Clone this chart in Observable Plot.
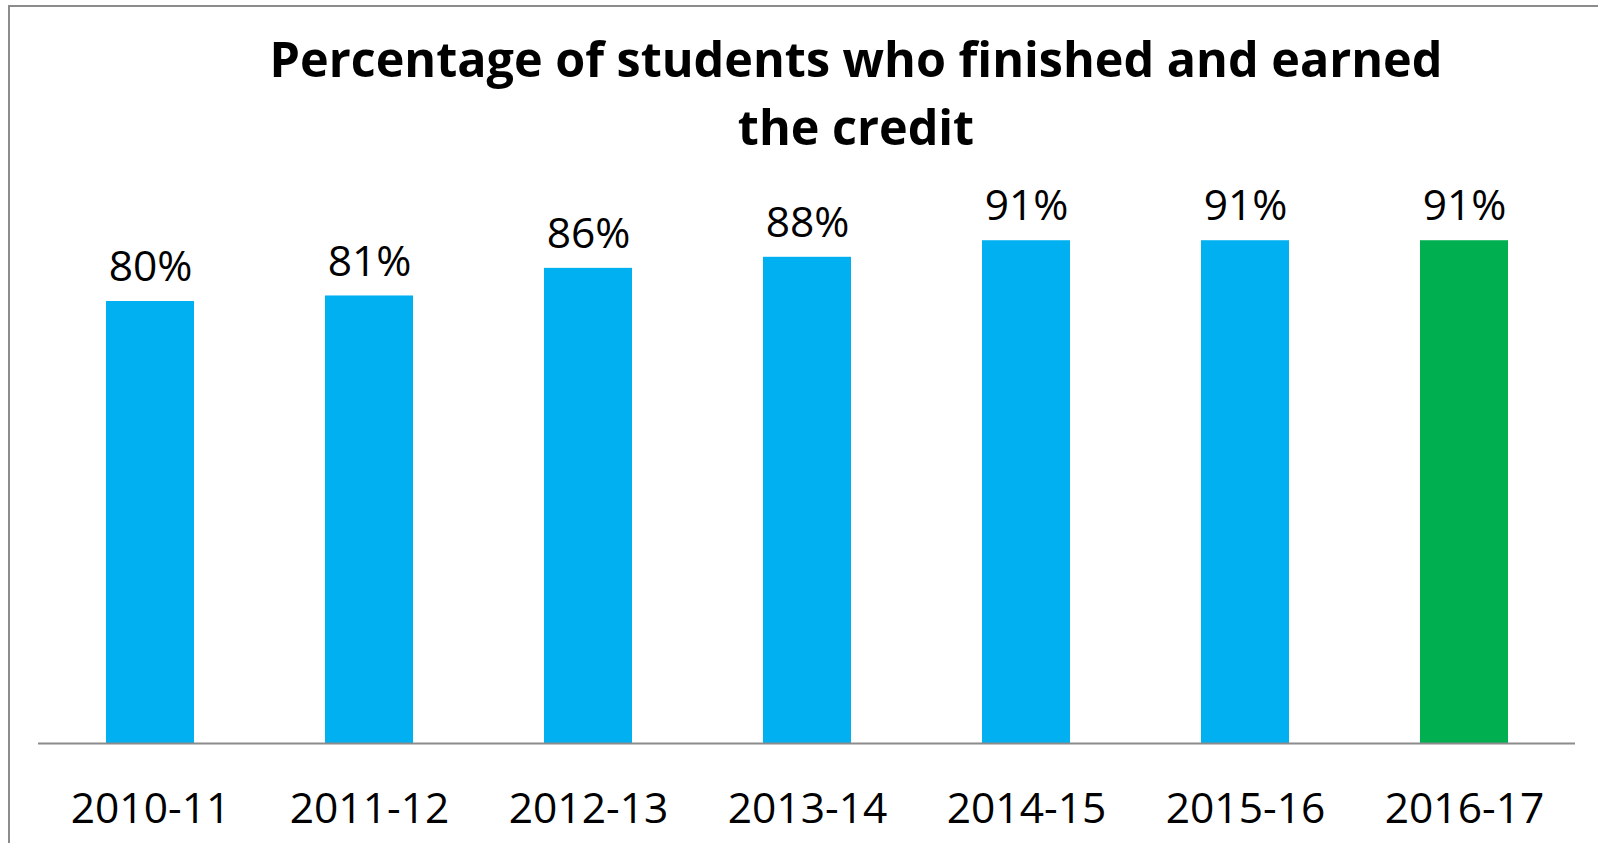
<!DOCTYPE html>
<html>
<head>
<meta charset="utf-8">
<script src="https://cdn.jsdelivr.net/npm/d3@7"></script>
<script src="https://cdn.jsdelivr.net/npm/@observablehq/plot@0.6"></script>
<style>
  html, body { margin: 0; padding: 0; background: #fff; }
  #wrap { position: relative; width: 1598px; height: 843px; overflow: hidden; background: #fff; }
  #frame { position: absolute; left: 8px; top: 5px; width: 2000px; height: 2000px;
           border-left: 2px solid #8c8c8c; border-top: 2px solid #8c8c8c; box-sizing: border-box; }
  #title { position: absolute; left: 0; top: 0; width: 1712px; text-align: center;
           font-family: "Open Sans", sans-serif; font-weight: 700; font-size: 48.5px;
           line-height: 68px; color: #000; padding-top: 24px; }
  #chart { position: absolute; left: 0; top: 150px; }
</style>
</head>
<body>
<div id="wrap">
  <div id="frame"></div>
  <div id="title">Percentage of students who finished and earned<br>the credit</div>
  <div id="chart"></div>
</div>
<script>
const years = ["2010-11", "2011-12", "2012-13", "2013-14", "2014-15", "2015-16", "2016-17"];
const values = [80, 81, 86, 88, 91, 91, 91];
const colors = ["#00B0F0", "#00B0F0", "#00B0F0", "#00B0F0", "#00B0F0", "#00B0F0", "#00B050"];

const data = years.map((y, i) => ({year: y, value: values[i], color: colors[i]}));

const chart = Plot.plot({
  width: 1598,
  height: 693,
  marginLeft: 38,
  marginRight: 23,
  marginTop: 40.5,
  marginBottom: 100,
  style: {fontFamily: "'Open Sans', sans-serif", background: "transparent", overflow: "visible"},
  x: {domain: years, paddingInner: 0.6, paddingOuter: 0.3, label: null},
  y: {domain: [0, 100], axis: null},
  marks: [
    Plot.barY(data, {x: "year", y: "value", fill: "color"}),
    Plot.ruleY([0], {stroke: "#8c8c8c", strokeWidth: 2}),
    Plot.text(data, {x: "year", y: "value", text: d => d.value + "%", dy: -34, fontSize: 42.5, fill: "#000"}),
    Plot.axisX({tickSize: 0, tickPadding: 49, fontSize: 42.5, label: null, fill: "#000"})
  ]
});
document.getElementById("chart").appendChild(chart);
</script>
</body>
</html>
